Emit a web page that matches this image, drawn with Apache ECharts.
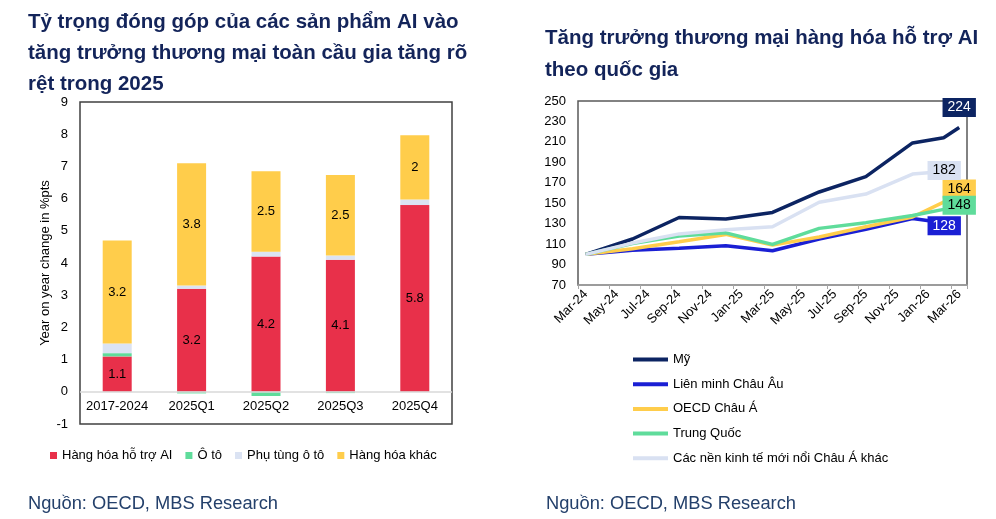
<!DOCTYPE html>
<html>
<head>
<meta charset="utf-8">
<script src="https://cdn.jsdelivr.net/npm/echarts@6/dist/echarts.min.js"></script>
<style>
  html, body { margin: 0; padding: 0; background: #fff; }
  #chart { width: 996px; height: 519px; }
</style>
</head>
<body>
<div id="chart"></div>
<script>
// left panel: contribution to global trade growth (%pts)
const barCategories = ["2017-2024", "2025Q1", "2025Q2", "2025Q3", "2025Q4"];
const aiGoods = [1.1, 3.2, 4.2, 4.1, 5.8];
const cars = [0.1, -0.05, -0.13, -0.04, 0];
const carParts = [0.3, 0.1, 0.15, 0.13, 0.17];
const otherGoods = [3.2, 3.8, 2.5, 2.5, 2];
const barSeriesNames = ["Hàng hóa hỗ trợ AI", "Ô tô", "Phụ tùng ô tô", "Hàng hóa khác"];

// right panel: AI-enabling goods trade index by economy
const months = ["Mar-24", "Apr-24", "May-24", "Jun-24", "Jul-24", "Aug-24", "Sep-24", "Oct-24",
  "Nov-24", "Dec-24", "Jan-25", "Feb-25", "Mar-25", "Apr-25", "May-25", "Jun-25", "Jul-25",
  "Aug-25", "Sep-25", "Oct-25", "Nov-25", "Dec-25", "Jan-26", "Feb-26", "Mar-26"];
const pointMonths = ["Mar-24", "Jun-24", "Sep-24", "Dec-24", "Mar-25", "Jun-25", "Sep-25", "Dec-25", "Feb-26", "Mar-26"];
const usa = [100, 115, 136, 134.5, 141, 161, 176, 209, 214, 224];
const eu = [100, 104, 106, 108.4, 103.5, 115, 124.4, 135, 131, 128];
const oecdAsia = [100, 105.5, 112.3, 119.5, 109, 117, 127, 136.5, 151, 164];
const china = [100, 110.5, 118, 121, 109.7, 125.4, 131, 138, 144, 148];
const otherAsia = [100, 111, 120, 124, 127, 151, 159, 178.5, 181, 182];
const lineYTicks = { min: 70, max: 250, interval: 20 };

const FONT = "Liberation Sans, Arial, sans-serif";
const TITLE_COLOR = "#13245a";

const chart = echarts.init(document.getElementById("chart"));

const barColors = ["#e8304a", "#5fdc9b", "#dbe3f3", "#ffcd4b"];
const barData = [aiGoods, cars, carParts, otherGoods];
const barLabelOn = [true, false, false, true];

const barSeries = barData.map((values, i) => ({
  name: barSeriesNames[i],
  type: "bar",
  stack: "total",
  xAxisIndex: 0,
  yAxisIndex: 0,
  barWidth: 29,
  data: values,
  itemStyle: { color: barColors[i] },
  label: {
    show: barLabelOn[i],
    position: "inside",
    color: "#000",
    fontSize: 13,
    fontFamily: FONT,
    textBorderWidth: 0,
  },
}));

// zero line of the bar panel (labels stay just under it, as in the original)
barSeries[0].markLine = {
  silent: true,
  symbol: "none",
  label: { show: false },
  lineStyle: { color: "#d9d9d9", width: 1.5, type: "solid" },
  data: [{ yAxis: 0 }],
};

// line series, with a boxed value at the last point
const lineDefs = [
  { name: "Mỹ", values: usa, color: "#0c2462", text: "#fff", offset: [0, -20] },
  { name: "Liên minh Châu Âu", values: eu, color: "#1a1fd4", text: "#fff", offset: [-15, 0] },
  { name: "OECD Châu Á", values: oecdAsia, color: "#ffcd4b", text: "#000", offset: [0, 0] },
  { name: "Trung Quốc", values: china, color: "#5fdc9b", text: "#000", offset: [0, 0] },
  { name: "Các nền kinh tế mới nổi Châu Á khác", values: otherAsia, color: "#d9e1f2", text: "#000", offset: [-15, 0] },
];

const lineSeries = lineDefs.map((d) => {
  const last = d.values.length - 1;
  return {
    name: d.name,
    type: "line",
    xAxisIndex: 1,
    yAxisIndex: 1,
    showSymbol: false,
    symbol: "none",
    lineStyle: { color: d.color, width: 3.5 },
    itemStyle: { color: d.color },
    data: d.values.map((v, i) => [pointMonths[i], v]),
    markPoint: {
      silent: true,
      symbol: "circle",
      symbolSize: 0,
      data: [{ coord: [pointMonths[last], d.values[last]], value: d.values[last] }],
      label: {
        show: true,
        position: "inside",
        offset: d.offset,
        color: d.text,
        backgroundColor: d.color,
        padding: [3, 5, 2, 5],
        fontSize: 14,
        lineHeight: 14,
        fontFamily: FONT,
        textBorderWidth: 0,
      },
    },
  };
});

const option = {
  animation: false,
  textStyle: { fontFamily: FONT },
  title: [
    {
      text: "Tỷ trọng đóng góp của các sản phẩm AI vào\ntăng trưởng thương mại toàn cầu gia tăng rõ\nrệt trong 2025",
      left: 28, top: 7, padding: 0,
      textStyle: { fontSize: 20.5, fontWeight: "bold", lineHeight: 31, color: TITLE_COLOR, fontFamily: FONT },
    },
    {
      text: "Tăng trưởng thương mại hàng hóa hỗ trợ AI\ntheo quốc gia",
      left: 545, top: 22, padding: 0,
      textStyle: { fontSize: 20.5, fontWeight: "bold", lineHeight: 32, color: TITLE_COLOR, fontFamily: FONT },
    },
    {
      text: "Nguồn: OECD, MBS Research",
      left: 28, top: 495, padding: 0,
      textStyle: { fontSize: 18.3, fontWeight: "normal", color: "#24406b", fontFamily: FONT },
    },
    {
      text: "Nguồn: OECD, MBS Research",
      left: 546, top: 495, padding: 0,
      textStyle: { fontSize: 18.3, fontWeight: "normal", color: "#24406b", fontFamily: FONT },
    },
  ],
  legend: [
    {
      data: barSeriesNames,
      left: 50, top: 449, padding: 0,
      icon: "rect", itemWidth: 7, itemHeight: 7, itemGap: 13,
      textStyle: { fontSize: 13, color: "#000", fontFamily: FONT },
    },
    {
      data: lineDefs.map((d) => d.name),
      orient: "vertical",
      left: 633, top: 353, padding: 0,
      icon: "rect", itemWidth: 35, itemHeight: 4, itemGap: 11.7,
      textStyle: { fontSize: 13, color: "#000", fontFamily: FONT },
    },
  ],
  grid: [
    { left: 80, top: 102, width: 372, height: 322, show: true, borderColor: "#404040", borderWidth: 1.5, backgroundColor: "transparent" },
    { left: 578, top: 101, width: 389, height: 184, show: true, borderColor: "#595959", borderWidth: 1.5, backgroundColor: "transparent" },
  ],
  xAxis: [
    {
      type: "category",
      gridIndex: 0,
      data: barCategories,
      axisLine: { show: false, onZero: false },
      axisTick: { show: false },
      axisLabel: { interval: 0, color: "#000", fontSize: 13, margin: -24, fontFamily: FONT },
      splitLine: { show: false },
    },
    {
      type: "category",
      gridIndex: 1,
      data: months,
      boundaryGap: true,
      axisLine: { onZero: false, lineStyle: { color: "#a6a6a6", width: 1.5 } },
      axisTick: { show: true, interval: 1, length: 4, lineStyle: { color: "#a6a6a6" } },
      axisLabel: { interval: 1, rotate: 45, color: "#000", fontSize: 13, margin: 7, fontFamily: FONT },
      splitLine: { show: false },
    },
  ],
  yAxis: [
    {
      type: "value",
      gridIndex: 0,
      min: -1, max: 9, interval: 1,
      name: "Year on year change in %pts",
      nameLocation: "middle",
      nameGap: 28,
      nameTextStyle: { fontSize: 13, color: "#000", fontFamily: FONT },
      axisLine: { show: false },
      axisTick: { show: false },
      axisLabel: { color: "#000", fontSize: 13, margin: 12, fontFamily: FONT },
      splitLine: { show: false },
    },
    {
      type: "value",
      gridIndex: 1,
      min: lineYTicks.min, max: lineYTicks.max, interval: lineYTicks.interval,
      axisLine: { show: false },
      axisTick: { show: false },
      axisLabel: { color: "#000", fontSize: 13, margin: 12, fontFamily: FONT },
      splitLine: { show: false },
    },
  ],
  series: [...barSeries, ...lineSeries],
};

chart.setOption(option);
</script>
</body>
</html>
